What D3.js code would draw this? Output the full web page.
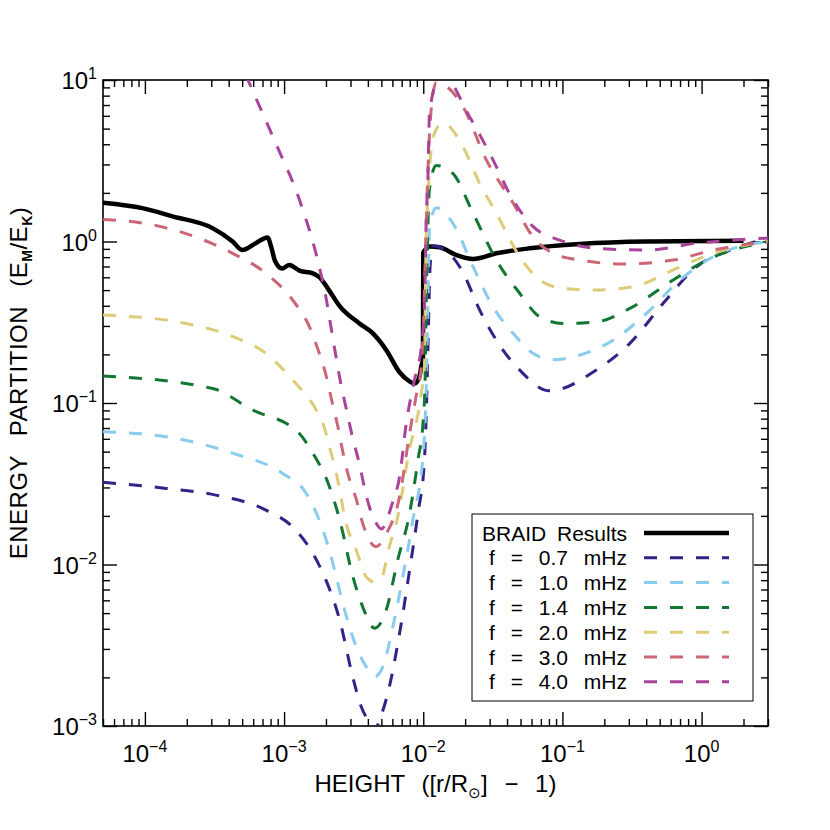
<!DOCTYPE html>
<html>
<head>
<meta charset="utf-8">
<script src="https://cdn.jsdelivr.net/npm/d3@7"></script>
<style>
body { margin: 0; background: #fff; }
text { font-family: "Liberation Sans", Arial, sans-serif; fill: #000; }
</style>
</head>
<body>
<div id="chart"></div>
<script>
// values: [height (r/Rsun - 1), E_M/E_K]
var braid = [[5.0e-5, 1.74], [9.6e-5, 1.61], [1.58e-4, 1.43], [3.06e-4, 1.21], [4.27e-4, 1.00],
    [5.0e-4, 0.885], [6.3e-4, 0.98], [7.6e-4, 1.06], [8.1e-4, 0.92], [8.6e-4, 0.76], [9.7e-4, 0.68],
    [1.09e-3, 0.715], [1.29e-3, 0.66], [1.61e-3, 0.635], [1.8e-3, 0.60], [2.1e-3, 0.50], [2.5e-3, 0.40],
    [3.48e-3, 0.311], [4.35e-3, 0.270], [5.42e-3, 0.213], [6.76e-3, 0.155], [7.98e-3, 0.136],
    [8.65e-3, 0.132], [9.4e-3, 0.146], [9.68e-3, 0.168], [9.95e-3, 0.19], [1.0e-2, 0.853],
    [1.05e-2, 0.90], [1.11e-2, 0.93], [1.31e-2, 0.92], [1.73e-2, 0.824], [2.28e-2, 0.78],
    [3.35e-2, 0.845], [5.82e-2, 0.908], [0.133, 0.966], [0.402, 1.00], [2.0, 1.01]];

var f07 = [[5.0e-5, 0.0323], [1.42e-4, 0.0296], [3.24e-4, 0.0269], [7.41e-4, 0.0217], [1.15e-3, 0.0171],
    [1.61e-3, 0.0117], [2.0e-3, 0.0080], [2.51e-3, 0.00453], [3.12e-3, 0.0020], [3.58e-3, 0.00132],
    [4.11e-3, 0.00105], [4.47e-3, 0.00093], [4.85e-3, 0.00109], [5.56e-3, 0.00159], [6.76e-3, 0.00375],
    [7.98e-3, 0.00925], [9.16e-3, 0.0207], [1.02e-2, 0.0444], [1.06e-2, 0.11], [1.09e-2, 0.30],
    [1.12e-2, 0.70], [1.17e-2, 0.94], [1.5e-2, 0.86], [1.9e-2, 0.66], [2.54e-2, 0.377], [3.35e-2, 0.245],
    [4.93e-2, 0.16], [8.1e-2, 0.119], [0.175, 0.16], [0.305, 0.234], [0.53, 0.414], [0.92, 0.698],
    [1.60, 0.885], [3.0, 1.05]];

var f10 = [[5.0e-5, 0.0664], [1.42e-4, 0.0618], [4.27e-4, 0.0489], [9.77e-4, 0.0366], [1.44e-3, 0.0276],
    [1.90e-3, 0.0164], [2.24e-3, 0.0102], [2.64e-3, 0.00575], [3.30e-3, 0.0031], [3.89e-3, 0.00233],
    [4.47e-3, 0.00202], [5.13e-3, 0.00233], [6.05e-3, 0.00412], [7.14e-3, 0.00841], [8.43e-3, 0.0189],
    [1.0e-2, 0.0489], [1.05e-2, 0.12], [1.08e-2, 0.394], [1.11e-2, 1.21], [1.24e-2, 1.62], [1.63e-2, 1.30],
    [2.28e-2, 0.698], [3.17e-2, 0.394], [4.42e-2, 0.27], [6.14e-2, 0.203], [8.55e-2, 0.185], [0.133, 0.198],
    [0.231, 0.245], [0.402, 0.359], [0.70, 0.578], [1.21, 0.805], [3.0, 1.0]];

var f14 = [[5.0e-5, 0.147], [3.06e-4, 0.123], [5.94e-4, 0.0906], [1.26e-3, 0.066], [1.61e-3, 0.0489],
    [2.12e-3, 0.0303], [2.51e-3, 0.0189], [3.12e-3, 0.00841], [3.67e-3, 0.00548], [4.47e-3, 0.00403],
    [5.42e-3, 0.00522], [6.56e-3, 0.0107], [7.98e-3, 0.0207], [9.16e-3, 0.0444], [1.0e-2, 0.0785],
    [1.03e-2, 0.133], [1.05e-2, 0.394], [1.11e-2, 2.14], [1.24e-2, 2.96], [1.63e-2, 2.64], [2.28e-2, 1.50],
    [3.35e-2, 0.767], [4.93e-2, 0.478], [6.87e-2, 0.342], [0.101, 0.311], [0.176, 0.318], [0.305, 0.385],
    [0.625, 0.578], [1.09, 0.767], [3.0, 1.0]];

var f20 = [[5.0e-5, 0.351], [1.97e-4, 0.311], [4.27e-4, 0.258], [7.41e-4, 0.203], [1.15e-3, 0.139],
    [1.70e-3, 0.0906], [1.90e-3, 0.0748], [2.18e-3, 0.0489], [2.43e-3, 0.0333], [2.79e-3, 0.018],
    [3.30e-3, 0.0123], [3.89e-3, 0.0084], [4.47e-3, 0.0078], [4.99e-3, 0.0082], [5.71e-3, 0.0129],
    [6.56e-3, 0.0198], [8.13e-3, 0.0562], [8.91e-3, 0.0748], [9.68e-3, 0.115], [1.02e-2, 0.168],
    [1.035e-2, 0.45], [1.05e-2, 1.10], [1.19e-2, 4.57], [1.38e-2, 5.42], [1.93e-2, 3.86], [2.54e-2, 2.29],
    [3.35e-2, 1.50], [4.93e-2, 0.805], [6.87e-2, 0.578], [0.101, 0.513], [0.176, 0.501], [0.322, 0.525],
    [0.70, 0.698], [1.21, 0.845], [3.0, 1.0]];

var f30 = [[5.0e-5, 1.37], [9.62e-5, 1.30], [1.97e-4, 1.12], [4.27e-4, 0.845], [7.41e-4, 0.635],
    [1.15e-3, 0.435], [1.52e-3, 0.297], [1.79e-3, 0.203], [2.0e-3, 0.149], [2.21e-3, 0.102], [2.43e-3, 0.072],
    [2.64e-3, 0.0501], [2.90e-3, 0.0355], [3.30e-3, 0.0254], [3.67e-3, 0.018], [4.58e-3, 0.0129],
    [5.5e-3, 0.0158], [6.76e-3, 0.0263], [7.94e-3, 0.0631], [8.91e-3, 0.112], [9.68e-3, 0.166],
    [1.0e-2, 0.282], [1.05e-2, 1.26], [1.10e-2, 3.98], [1.15e-2, 7.08], [1.24e-2, 9.66], [1.93e-2, 6.84],
    [2.84e-2, 3.20], [4.42e-2, 1.73], [6.14e-2, 1.07], [8.55e-2, 0.845], [0.133, 0.767], [0.273, 0.726],
    [0.625, 0.767], [1.21, 0.885], [3.0, 1.0]];

var f40 = [[4.47e-4, 15.1], [5.5e-4, 10.0], [8.71e-4, 4.06], [1.29e-3, 1.81], [1.79e-3, 0.698],
    [2.0e-3, 0.45], [2.18e-3, 0.29], [2.37e-3, 0.19], [2.57e-3, 0.129], [2.8e-3, 0.092], [3.12e-3, 0.060],
    [3.48e-3, 0.042], [3.78e-3, 0.030], [4.11e-3, 0.0226], [4.6e-3, 0.018], [5.0e-3, 0.0166],
    [6.0e-3, 0.024], [6.76e-3, 0.035], [7.55e-3, 0.0748], [8.65e-3, 0.139], [9.68e-3, 0.223],
    [1.02e-2, 0.394], [1.05e-2, 1.33], [1.08e-2, 2.47], [1.11e-2, 6.40], [1.35e-2, 11.0], [2.15e-2, 5.93],
    [3.0e-2, 3.52], [4.42e-2, 1.81], [6.14e-2, 1.24], [9.55e-2, 1.02], [0.176, 0.908], [0.402, 0.885],
    [0.92, 0.975], [3.0, 1.05]];

var waveSeries = [f07, f10, f14, f20, f30, f40];
var waveNames = ["f = 0.7 mHz", "f = 1.0 mHz", "f = 1.4 mHz", "f = 2.0 mHz", "f = 3.0 mHz", "f = 4.0 mHz"];
var waveColors = ["#332288", "#88CCEE", "#117733", "#DDCC77", "#CC6677", "#AA4499"];

var xDomain = [5e-5, 3];
var yDomain = [1e-3, 10];
var xMajor = [1e-4, 1e-3, 1e-2, 1e-1, 1];
var yMajor = [1e-3, 1e-2, 1e-1, 1, 10];

// set the dimensions and margins of the graph
var margin = {top: 80, right: 62, bottom: 104, left: 103},
    width = 830 - margin.left - margin.right,
    height = 830 - margin.top - margin.bottom;

var svg = d3.select("#chart")
  .append("svg")
    .attr("width", 830)
    .attr("height", 830)
  .append("g")
    .attr("transform", "translate(" + margin.left + "," + margin.top + ")");

var x = d3.scaleLog().domain(xDomain).range([0, width]);
var y = d3.scaleLog().domain(yDomain).range([height, 0]);

function minorTicks(domain) {
    var out = [];
    var lo = Math.floor(Math.log10(domain[0])), hi = Math.ceil(Math.log10(domain[1]));
    for (var k = lo; k < hi; k++) {
        for (var m = 2; m <= 9; m++) {
            var v = m * Math.pow(10, k);
            if (v >= domain[0] * 0.999 && v <= domain[1] * 1.001) out.push(v);
        }
    }
    return out;
}

function expText(v) {
    var e = Math.round(Math.log10(v));
    return e < 0 ? "\u2212" + (-e) : "" + e;
}

// ticks on all four sides, pointing inwards
function drawTicks(axisFn, scale, values, size, transform) {
    var g = svg.append("g")
        .attr("transform", transform)
        .call(axisFn(scale).tickValues(values).tickSize(-size).tickSizeOuter(0).tickFormat(""));
    g.select(".domain").remove();
    g.selectAll("line").attr("stroke", "#000").attr("stroke-width", 1.4);
}
drawTicks(d3.axisBottom, x, xMajor, 14, "translate(0," + height + ")");
drawTicks(d3.axisBottom, x, minorTicks(xDomain), 7, "translate(0," + height + ")");
drawTicks(d3.axisTop, x, xMajor, 14, "translate(0,0)");
drawTicks(d3.axisTop, x, minorTicks(xDomain), 7, "translate(0,0)");
drawTicks(d3.axisLeft, y, yMajor, 14, "translate(0,0)");
drawTicks(d3.axisLeft, y, minorTicks(yDomain), 7, "translate(0,0)");
drawTicks(d3.axisRight, y, yMajor, 14, "translate(" + width + ",0)");
drawTicks(d3.axisRight, y, minorTicks(yDomain), 7, "translate(" + width + ",0)");

svg.append("rect")
    .attr("width", width)
    .attr("height", height)
    .attr("fill", "none")
    .attr("stroke", "#000")
    .attr("stroke-width", 1.6);

// tick labels as 10 with a raised exponent
var xl = svg.selectAll(".xlab")
    .data(xMajor)
    .enter().append("text")
    .attr("class", "xlab")
    .attr("x", function(d) { return x(d); })
    .attr("y", height + 36)
    .attr("text-anchor", "middle")
    .style("font-size", "24px");
xl.append("tspan").text("10");
xl.append("tspan").attr("dy", -10).style("font-size", "16px").text(expText);

var yl = svg.selectAll(".ylab")
    .data(yMajor)
    .enter().append("text")
    .attr("class", "ylab")
    .attr("x", -6)
    .attr("y", function(d) { return y(d) + 9; })
    .attr("text-anchor", "end")
    .style("font-size", "24px");
yl.append("tspan").text("10");
yl.append("tspan").attr("dy", -10).style("font-size", "16px").text(expText);

// axis titles
var xt = svg.append("text")
    .attr("x", width / 2)
    .attr("y", height + 66)
    .attr("text-anchor", "middle")
    .style("font-size", "24px")
    .style("word-spacing", "10px");
xt.append("tspan").text("HEIGHT ([r/R");
xt.append("tspan").attr("dy", 6).style("font-size", "15px").text("\u2299");
xt.append("tspan").attr("dy", -6).text("] \u2212 1)");

var yt = svg.append("text")
    .attr("transform", "translate(-76," + (height / 2 - 20) + ") rotate(-90)")
    .attr("text-anchor", "middle")
    .style("font-size", "24px")
    .style("letter-spacing", "0.5px")
    .style("word-spacing", "12px");
yt.append("tspan").text("ENERGY PARTITION (E");
yt.append("tspan").attr("dy", 5).style("font-size", "14px").style("font-weight", "bold").text("M");
yt.append("tspan").attr("dy", -5).text("/E");
yt.append("tspan").attr("dy", 5).style("font-size", "14px").style("font-weight", "bold").text("K");
yt.append("tspan").attr("dy", -5).text(")");

// curves
svg.append("clipPath")
    .attr("id", "plotclip")
  .append("rect")
    .attr("width", width)
    .attr("height", height);

var line = d3.line()
    .x(function(d) { return x(d[0]); })
    .y(function(d) { return y(d[1]); })
    .curve(d3.curveMonotoneX);

var plot = svg.append("g").attr("clip-path", "url(#plotclip)");

plot.append("path")
    .datum(braid)
    .attr("d", line)
    .attr("fill", "none")
    .attr("stroke", "#000")
    .attr("stroke-width", 4.5)
    .attr("stroke-linejoin", "round");

plot.selectAll(".wave")
    .data(waveSeries)
    .enter().append("path")
    .attr("class", "wave")
    .attr("d", line)
    .attr("fill", "none")
    .attr("stroke", function(d, i) { return waveColors[i]; })
    .attr("stroke-width", 3)
    .attr("stroke-dasharray", "13,13");

// legend
var lg = svg.append("g").attr("transform", "translate(" + (width - 296) + "," + (height - 212) + ")");
lg.append("rect")
    .attr("width", 281)
    .attr("height", 187)
    .attr("fill", "#fff")
    .attr("stroke", "#000")
    .attr("stroke-width", 1);

var rows = ["BRAID Results"].concat(waveNames);
var rowColors = ["#000"].concat(waveColors);
var row = lg.selectAll(".row")
    .data(rows)
    .enter().append("g")
    .attr("class", "row")
    .attr("transform", function(d, i) { return "translate(0," + (19 + i * 24.8) + ")"; });

row.append("text")
    .attr("x", 155)
    .attr("y", 7.5)
    .attr("text-anchor", "end")
    .style("font-size", "21px")
    .style("word-spacing", function(d, i) { return i === 0 ? "5px" : "10px"; })
    .text(function(d) { return d; });

row.append("line")
    .attr("x1", 172)
    .attr("x2", 257)
    .attr("stroke", function(d, i) { return rowColors[i]; })
    .attr("stroke-width", function(d, i) { return i === 0 ? 4.5 : 3; })
    .attr("stroke-dasharray", function(d, i) { return i === 0 ? null : "13,13"; });
</script>
</body>
</html>
